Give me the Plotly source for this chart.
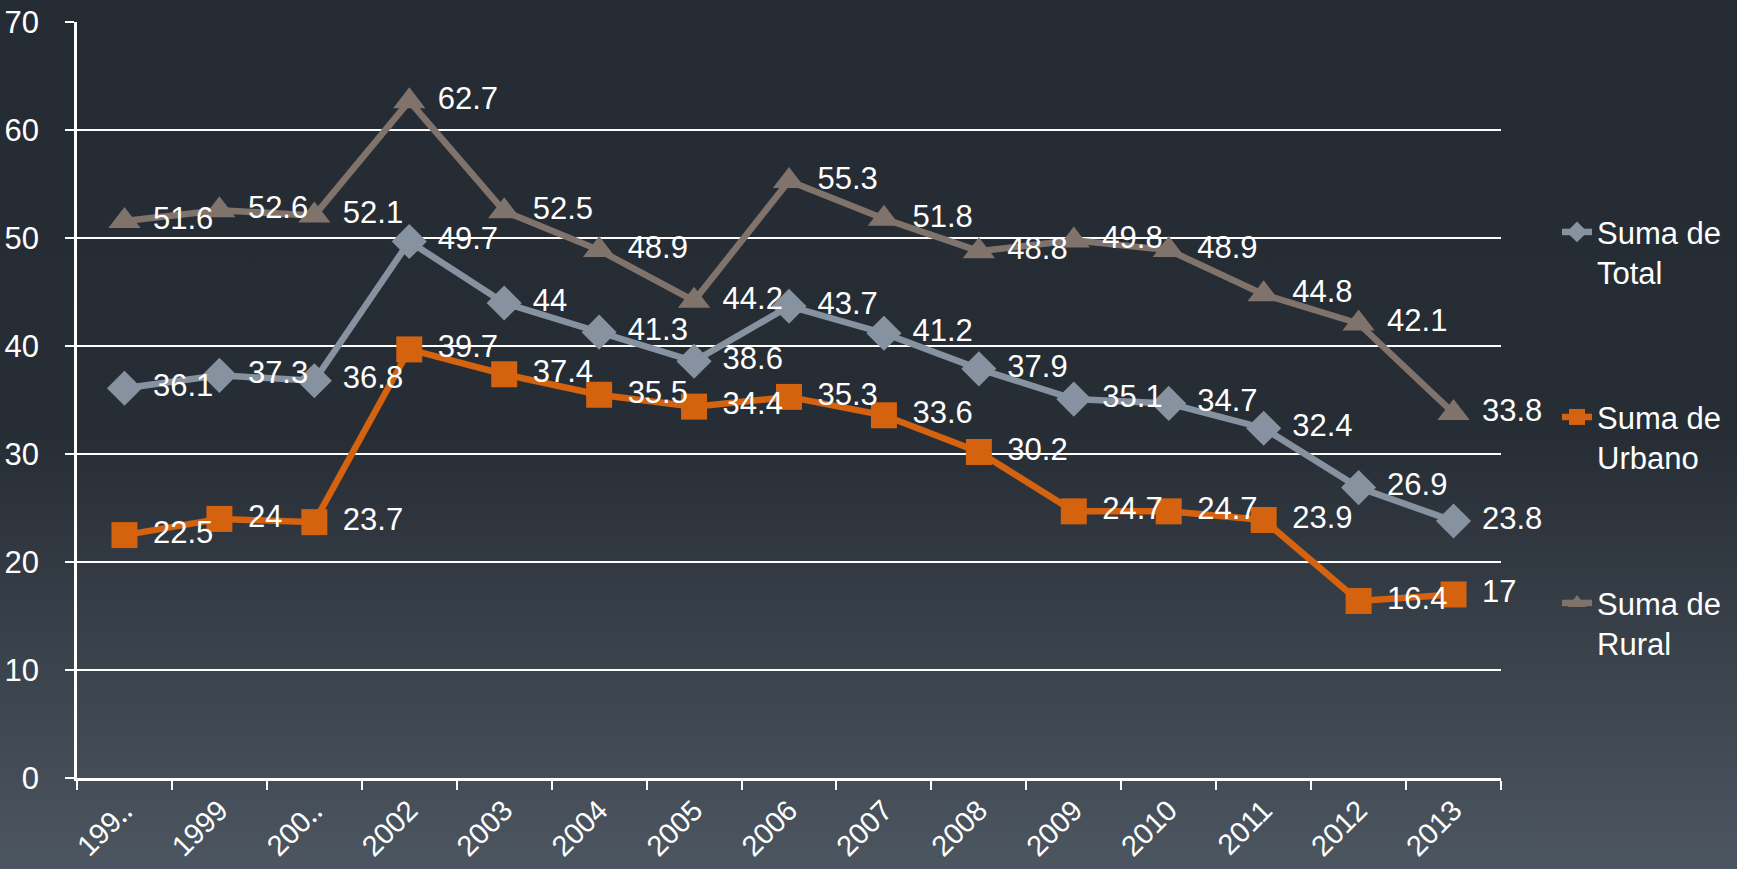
import base64
import plotly.graph_objects as go

categories = ["199‥", "1999", "200‥", "2002", "2003", "2004", "2005", "2006",
              "2007", "2008", "2009", "2010", "2011", "2012", "2013"]
total = [36.1, 37.3, 36.8, 49.7, 44, 41.3, 38.6, 43.7, 41.2, 37.9, 35.1, 34.7, 32.4, 26.9, 23.8]
urbano = [22.5, 24, 23.7, 39.7, 37.4, 35.5, 34.4, 35.3, 33.6, 30.2, 24.7, 24.7, 23.9, 16.4, 17]
rural = [51.6, 52.6, 52.1, 62.7, 52.5, 48.9, 44.2, 55.3, 51.8, 48.8, 49.8, 48.9, 44.8, 42.1, 33.8]
series_names = ["Suma de<br>Total", "Suma de<br>Urbano", "Suma de<br>Rural"]
y_ticks = [0, 10, 20, 30, 40, 50, 60, 70]

W, H = 1737, 869
L, R, T, B = 77, 236, 22, 91
FONT = "Liberation Sans, Arial, sans-serif"
FS = 31

styles = [
    dict(color="#8792a0", symbol="diamond", size=27),
    dict(color="#d4620e", symbol="square", size=26),
    dict(color="#7f736b", symbol="triangle-up", size=28),
]
data = [total, urbano, rural]
legend_y = [232, 417, 603]

fig = go.Figure()
for i, (vals, st, name) in enumerate(zip(data, styles, series_names)):
    lg = "legend" if i == 0 else f"legend{i+1}"
    fig.add_trace(go.Scatter(
        x=categories, y=vals, mode="lines+markers",
        name="\u00a0<br>" + name,
        line=dict(color=st["color"], width=6.5),
        marker=dict(symbol=st["symbol"], size=st["size"], color=st["color"]),
        legend=lg, cliponaxis=False,
    ))
# data labels drawn on top of all series
for vals, st in zip(data, styles):
    fig.add_trace(go.Scatter(
        x=categories, y=vals, mode="markers+text",
        text=[f"{v:g}" for v in vals], textposition="middle right",
        textfont=dict(color="white", size=FS, family=FONT),
        marker=dict(symbol="circle", size=44, color="rgba(0,0,0,0)"),
        showlegend=False, hoverinfo="skip", cliponaxis=False,
    ))

svg = f'''<svg xmlns="http://www.w3.org/2000/svg" width="{W}" height="{H}" viewBox="0 0 {W} {H}" preserveAspectRatio="none">
<defs><linearGradient id="g" x1="0" y1="0" x2="0" y2="1">
<stop offset="0" stop-color="#252b33"/><stop offset="0.5" stop-color="#272d35"/>
<stop offset="1" stop-color="#4c5660"/></linearGradient></defs>
<rect x="0" y="0" width="{W}" height="{H}" fill="url(#g)"/></svg>'''
src = "data:image/svg+xml;base64," + base64.b64encode(svg.encode()).decode()
pw, ph = W - L - R, H - T - B

legend_common = dict(
    xref="container", yref="container", x=1557 / W, xanchor="left", yanchor="middle",
    bgcolor="rgba(0,0,0,0)", borderwidth=0,
    font=dict(color="white", size=FS, family=FONT),
)
fig.update_layout(
    width=W, height=H,
    margin=dict(l=L, r=R, t=T, b=B, autoexpand=False),
    paper_bgcolor="#262c34", plot_bgcolor="rgba(0,0,0,0)",
    font=dict(family=FONT, size=FS, color="white"),
    images=[dict(source=src, xref="paper", yref="paper", x=-L / pw, y=1 + T / ph,
                 sizex=W / pw, sizey=H / ph, sizing="stretch", layer="below",
                 xanchor="left", yanchor="top")],
    legend=dict(**legend_common, y=1 - legend_y[0] / H),
    legend2=dict(**legend_common, y=1 - legend_y[1] / H),
    legend3=dict(**legend_common, y=1 - legend_y[2] / H),
    xaxis=dict(
        type="category", tickson="boundaries", ticks="outside", ticklen=9, tickwidth=2,
        tickcolor="white", showline=True, linecolor="white", linewidth=2.5,
        showgrid=False, tickangle=-45, tickfont=dict(size=29, color="white"),
        range=[-0.5, len(categories) - 0.5], ticklabelstandoff=1,
    ),
    yaxis=dict(
        range=[0, 70.03], tickvals=y_ticks, ticks="outside", ticklen=9, tickwidth=2,
        tickcolor="white", showline=True, linecolor="white", linewidth=2.5,
        showgrid=True, gridcolor="white", gridwidth=2, zeroline=False,
        tickfont=dict(size=FS, color="white"), ticklabelstandoff=20,
    ),
    showlegend=True,
)
fig.write_html("out.html", config={"displayModeBar": False},
               post_script="document.body.style.margin='0';document.body.style.overflow='hidden';")
